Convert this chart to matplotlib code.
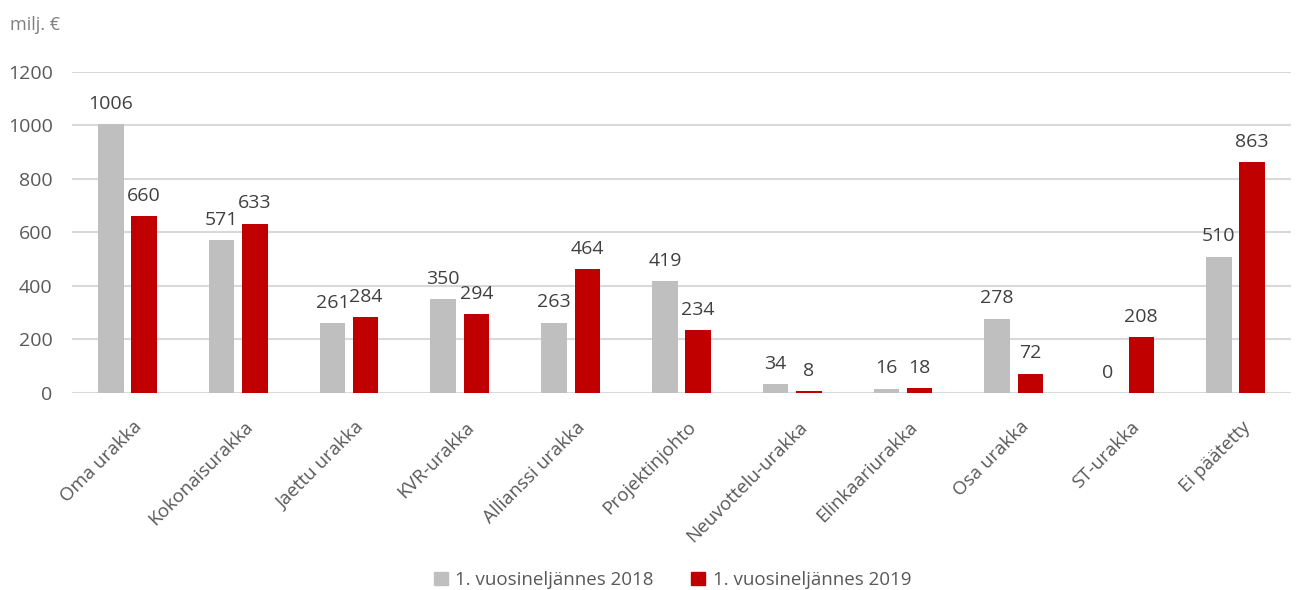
import numpy as np
import matplotlib.pyplot as plt
from matplotlib.patches import Patch

plt.rcParams['font.family'] = ['Open Sans', 'DejaVu Sans']

categories = ["Oma urakka", "Kokonaisurakka", "Jaettu urakka", "KVR-urakka",
              "Allianssi urakka", "Projektinjohto", "Neuvottelu-urakka",
              "Elinkaariurakka", "Osa urakka", "ST-urakka", "Ei päätetty"]
values_2018 = [1006, 571, 261, 350, 263, 419, 34, 16, 278, 0, 510]
values_2019 = [660, 633, 284, 294, 464, 234, 8, 18, 72, 208, 863]
series_names = ["1. vuosineljännes 2018", "1. vuosineljännes 2019"]
y_ticks = [0, 200, 400, 600, 800, 1000, 1200]

gray = '#bfbfbf'
red = '#c00000'
text_col = '#595959'

fig = plt.figure(figsize=(12.98, 5.90), dpi=100)
ax = fig.add_axes([0.0555, 0.334, 0.939, 0.544])

x = np.arange(len(categories))
w = 0.23
off = 0.15
b1 = ax.bar(x - off, values_2018, w, color=gray, zorder=3)
b2 = ax.bar(x + off, values_2019, w, color=red, zorder=3)

# value labels above bars
for bars, vals in ((b1, values_2018), (b2, values_2019)):
    for rect, v in zip(bars, vals):
        ax.text(rect.get_x() + rect.get_width() / 2, v + 42, str(v),
                ha='center', va='bottom', fontsize=14, color='#404040')

ax.set_xlim(-0.5, len(categories) - 0.5)
ax.set_ylim(0, 1200)
ax.set_yticks(y_ticks)
ax.yaxis.grid(True, color='#d9d9d9', linewidth=1.5, zorder=0)
for s in ax.spines.values():
    s.set_visible(False)
ax.tick_params(axis='both', length=0, labelsize=13.5, colors=text_col)
ax.tick_params(axis='y', pad=14, labelsize=14)
ax.set_xticks(x + 0.05)
ax.set_xticklabels(categories, rotation=45, ha='right', rotation_mode='anchor')
ax.tick_params(axis='x', pad=18)

fig.text(0.008, 0.957, "milj. €", fontsize=13, color='#808080', va='center')

handles = [Patch(color=gray), Patch(color=red)]
fig.legend(handles, series_names, loc='center', bbox_to_anchor=(0.518, 0.017),
           ncol=2, frameon=False, fontsize=13.5, handlelength=0.75, handleheight=0.75,
           columnspacing=2.0, handletextpad=0.4, labelcolor=text_col)

plt.savefig("out.png", dpi=100)
